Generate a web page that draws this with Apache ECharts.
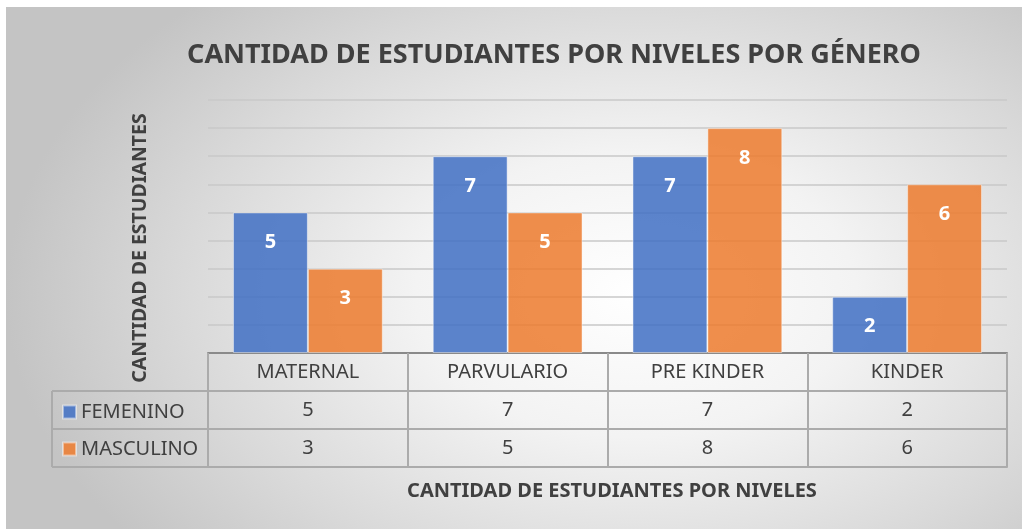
<!DOCTYPE html>
<html>
<head>
<meta charset="utf-8">
<script src="https://cdn.jsdelivr.net/npm/echarts@6/dist/echarts.min.js"></script>
<style>
  html, body { margin: 0; padding: 0; background: #ffffff; }
  #wrap { position: relative; width: 1022px; height: 529px; overflow: hidden; }
  #bg { position: absolute; left: 6px; top: 7px; right: 0; bottom: 0;
        background: radial-gradient(ellipse 62% 78% at 62% 55%, #ffffff 0%, #f3f3f3 35%, #d9d9d9 72%, #c4c4c4 100%); }
  #chart { position: absolute; left: 0; top: 0; width: 1022px; height: 529px; }
</style>
</head>
<body>
<div id="wrap"><div id="bg"></div><div id="chart"></div></div>
<script>
const categories = ['MATERNAL', 'PARVULARIO', 'PRE KINDER', 'KINDER'];
const seriesNames = ['FEMENINO', 'MASCULINO'];
const femenino = [5, 7, 7, 2];
const masculino = [3, 5, 8, 6];
const yTicks = [0, 1, 2, 3, 4, 5, 6, 7, 8, 9];

const FONT = '"Noto Sans", "Open Sans", sans-serif';
const TXT = '#404040';
const LINE = '#ababab';
const ROW = 38;

const chart = echarts.init(document.getElementById('chart'), null, { renderer: 'canvas' });

function offsetAxis(off) {
  return {
    type: 'category', data: categories, position: 'bottom', offset: off, gridIndex: 0,
    axisLine: { show: true, lineStyle: { color: LINE, width: 2 } },
    axisTick: { show: false }, axisLabel: { show: false }, splitLine: { show: false }
  };
}

const option = {
  backgroundColor: 'transparent',
  animation: false,
  textStyle: { fontFamily: FONT },
  title: [
    { text: 'CANTIDAD DE ESTUDIANTES POR NIVELES POR GÉNERO', left: 549, top: 37, textAlign: 'center',
      textStyle: { fontFamily: FONT, fontSize: 27, fontWeight: 'bold', color: TXT } },
    { text: 'CANTIDAD DE ESTUDIANTES POR NIVELES', left: 607, top: 476, textAlign: 'center',
      textStyle: { fontFamily: FONT, fontSize: 20, fontWeight: 'bold', color: TXT } }
  ],
  legend: {
    orient: 'vertical', left: 57, top: 396, itemWidth: 13, itemHeight: 13, itemGap: 15,
    icon: 'rect', selectedMode: false,
    textStyle: { fontFamily: FONT, fontSize: 20, color: TXT, lineHeight: 22 },
    data: seriesNames
  },
  grid: { left: 208, right: 15, top: 100, bottom: 176, containLabel: false },
  xAxis: [
    {
      type: 'category', data: categories, position: 'bottom', gridIndex: 0,
      axisLine: { show: true, lineStyle: { color: '#8a8a8a', width: 2 } },
      axisTick: { show: true, inside: false, length: ROW * 3, lineStyle: { color: LINE, width: 2 } },
      axisLabel: {
        margin: 0, interval: 0,
        formatter: function (v, i) {
          return '{c|' + v + '}\n{v|' + femenino[i] + '}\n{v|' + masculino[i] + '}';
        },
        rich: {
          c: { fontFamily: FONT, fontSize: 20, color: TXT, lineHeight: ROW, height: ROW, verticalAlign: 'middle' },
          v: { fontFamily: FONT, fontSize: 20, color: TXT, lineHeight: ROW, height: ROW, verticalAlign: 'middle' }
        }
      },
      splitLine: { show: false }
    },
    offsetAxis(ROW), offsetAxis(ROW * 2), offsetAxis(ROW * 3)
  ],
  yAxis: {
    type: 'value', min: yTicks[0], max: yTicks[yTicks.length - 1], interval: 1,
    axisLine: { show: false }, axisTick: { show: false }, axisLabel: { show: false },
    splitLine: { show: true, lineStyle: { color: '#c9c9c9', width: 1.5 } }
  },
  series: [
    {
      name: seriesNames[0], type: 'bar', data: femenino, xAxisIndex: 0,
      barGap: '0%', barCategoryGap: '25%',
      itemStyle: { color: 'rgba(68,114,196,0.87)', borderColor: 'rgba(255,255,255,0.45)', borderWidth: 1 },
      label: { show: true, position: 'insideTop', distance: 20, color: '#ffffff', fontWeight: 'bold', fontSize: 20, fontFamily: FONT }
    },
    {
      name: seriesNames[1], type: 'bar', data: masculino, xAxisIndex: 0,
      barGap: '0%', barCategoryGap: '25%',
      itemStyle: { color: 'rgba(237,125,49,0.87)', borderColor: 'rgba(255,255,255,0.45)', borderWidth: 1 },
      label: { show: true, position: 'insideTop', distance: 20, color: '#ffffff', fontWeight: 'bold', fontSize: 20, fontFamily: FONT }
    }
  ]
};
chart.setOption(option);

// table chrome for the legend column, derived from the grid position
const baseY = chart.convertToPixel({ yAxisIndex: 0 }, 0);
const leftX = chart.convertToPixel({ xAxisIndex: 0 }, 0) - (chart.convertToPixel({ xAxisIndex: 0 }, 1) - chart.convertToPixel({ xAxisIndex: 0 }, 0)) / 2;
const colLeft = 52;
const ls = { stroke: LINE, lineWidth: 2 };
chart.setOption({
  graphic: [
    { type: 'line', shape: { x1: colLeft, y1: baseY + ROW, x2: leftX, y2: baseY + ROW }, style: ls, silent: true },
    { type: 'line', shape: { x1: colLeft, y1: baseY + ROW * 2, x2: leftX, y2: baseY + ROW * 2 }, style: ls, silent: true },
    { type: 'line', shape: { x1: colLeft, y1: baseY + ROW * 3, x2: leftX, y2: baseY + ROW * 3 }, style: ls, silent: true },
    { type: 'line', shape: { x1: colLeft, y1: baseY + ROW, x2: colLeft, y2: baseY + ROW * 3 }, style: ls, silent: true },
    { type: 'text', x: 140, y: 248, rotation: Math.PI / 2, silent: true,
      style: { text: 'CANTIDAD DE ESTUDIANTES', fontFamily: FONT, fontSize: 19.5, fontWeight: 'bold', fill: TXT, align: 'center', verticalAlign: 'middle' } }
  ]
});
</script>
</body>
</html>
